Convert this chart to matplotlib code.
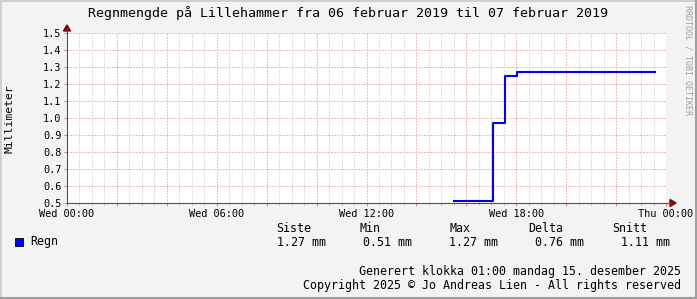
import matplotlib
matplotlib.use("Agg")
import matplotlib.pyplot as plt
from matplotlib.patches import Rectangle, Polygon
from matplotlib.lines import Line2D
from matplotlib.ticker import MultipleLocator, FuncFormatter

# ---- data ----
title = "Regnmengde på Lillehammer fra 06 februar 2019 til 07 februar 2019"
ylabel = "Millimeter"
x_tick_hours = [0, 6, 12, 18, 24]
x_tick_labels = ["Wed 00:00", "Wed 06:00", "Wed 12:00", "Wed 18:00", "Thu 00:00"]
step_hours = [15.5, 17.05, 17.55, 18.05, 23.55]   # hours since Wed 00:00
rain_mm = [0.51, 0.97, 1.245, 1.27, 1.27]
series_name = "Regn"
stat_headers = ["Siste", "Min", "Max", "Delta", "Snitt"]
stat_values = ["1.27 mm", "0.51 mm", "1.27 mm", "0.76 mm", "1.11 mm"]
footer1 = "Generert klokka 01:00 mandag 15. desember 2025"
footer2 = "Copyright 2025 © Jo Andreas Lien - All rights reserved"
watermark = "RRDTOOL / TOBI OETIKER"

W, H = 697, 299
BG = "#F3F3F3"
MONO = ["DejaVu Sans Mono"]

fig = plt.figure(figsize=(W / 100, H / 100), dpi=100, facecolor=BG)

def fx(px):
    return px / W

def fy(py):
    return 1 - py / H

# frame (3D style border)
fig.add_artist(Line2D([0, 1], [fy(0.5), fy(0.5)], color="#CFCFCF", lw=1.4, transform=fig.transFigure))
fig.add_artist(Line2D([fx(0.5), fx(0.5)], [0, 1], color="#CFCFCF", lw=1.4, transform=fig.transFigure))
fig.add_artist(Line2D([0, 1], [fy(297.5), fy(297.5)], color="#9E9E9E", lw=2.2, transform=fig.transFigure))
fig.add_artist(Line2D([fx(695.5), fx(695.5)], [0, 1], color="#9E9E9E", lw=2.2, transform=fig.transFigure))

left, right, top, bottom = 67, 666, 33, 203
ax = fig.add_axes([fx(left), fy(bottom), fx(right - left), (bottom - top) / H])
ax.set_facecolor("white")

ax.step(step_hours, rain_mm, where="post", color="#0000FF", lw=1.5, zorder=5)

ax.set_xlim(0, 24)
ax.set_ylim(0.5, 1.5)

ax.xaxis.set_major_locator(MultipleLocator(2))
ax.xaxis.set_minor_locator(MultipleLocator(0.5))
lab = dict(zip(x_tick_hours, x_tick_labels))
ax.xaxis.set_major_formatter(FuncFormatter(lambda v, p: lab.get(int(round(v)), "") if abs(v - round(v)) < 1e-6 else ""))
ax.yaxis.set_major_locator(MultipleLocator(0.1))
ax.yaxis.set_major_formatter(FuncFormatter(lambda v, p: f"{v:.1f}"))

ax.grid(which="major", axis="both", color="#EDBDBD", lw=1.0, linestyle=(0, (1, 1)), antialiased=False)
ax.grid(which="minor", axis="x", color="#DDDDDD", lw=1.0, linestyle=(0, (1, 1)), antialiased=False)

ax.tick_params(axis="both", which="major", length=2.5, width=0.7, color="#D08080",
               labelsize=7.4, pad=1.5, labelfontfamily="DejaVu Sans Mono", labelcolor="black")
ax.tick_params(axis="x", which="minor", length=1.5, width=0.7, color="#BBBBBB")
ax.tick_params(axis="x", which="major", pad=2)

for s in ["top", "right"]:
    ax.spines[s].set_visible(False)
for s in ["left", "bottom"]:
    ax.spines[s].set_color("#505050")
    ax.spines[s].set_linewidth(0.8)

# axis arrows
ar = "#7F0000"
fig.add_artist(Line2D([fx(right), fx(672)], [fy(bottom), fy(bottom)], color="#505050", lw=0.8, transform=fig.transFigure))
fig.add_artist(Polygon([[fx(670), fy(bottom - 3.5)], [fx(676), fy(bottom)], [fx(670), fy(bottom + 3.5)]],
                       closed=True, color=ar, transform=fig.transFigure))
fig.add_artist(Line2D([fx(left), fx(left)], [fy(top), fy(28)], color="#505050", lw=0.8, transform=fig.transFigure))
fig.add_artist(Polygon([[fx(left - 3.5), fy(31)], [fx(left), fy(25)], [fx(left + 3.5), fy(31)]],
                       closed=True, color=ar, transform=fig.transFigure))

# title
fig.text(fx(348), fy(13), title, ha="center", va="center", fontsize=9.6, family=MONO, color="black")
# y label
fig.text(fx(10), fy(119), ylabel, ha="center", va="center", rotation=90, fontsize=8.2, family=MONO, color="black")
# watermark
fig.text(fx(688), fy(5), watermark, ha="center", va="top", rotation=270, fontsize=6.0, family=MONO, color="#A0A0A0")

# legend
fig.add_artist(Rectangle((fx(15), fy(245.5)), fx(8), 8 / H, facecolor="#0000FF", edgecolor="black", lw=0.6,
                         transform=fig.transFigure))
fig.text(fx(30), fy(242), series_name, ha="left", va="center", fontsize=8.4, family=MONO)
hx = [276, 360, 450, 528, 612]
vx = [277, 363, 449, 535, 621]
for h, x in zip(stat_headers, hx):
    fig.text(fx(x), fy(229), h, ha="left", va="center", fontsize=8.4, family=MONO)
for v, x in zip(stat_values, vx):
    fig.text(fx(x), fy(243), v, ha="left", va="center", fontsize=8.4, family=MONO)

fig.text(fx(681), fy(271), footer1, ha="right", va="center", fontsize=8.4, family=MONO)
fig.text(fx(681), fy(285), footer2, ha="right", va="center", fontsize=8.4, family=MONO)

fig.savefig("out.png", dpi=100, facecolor=BG)
